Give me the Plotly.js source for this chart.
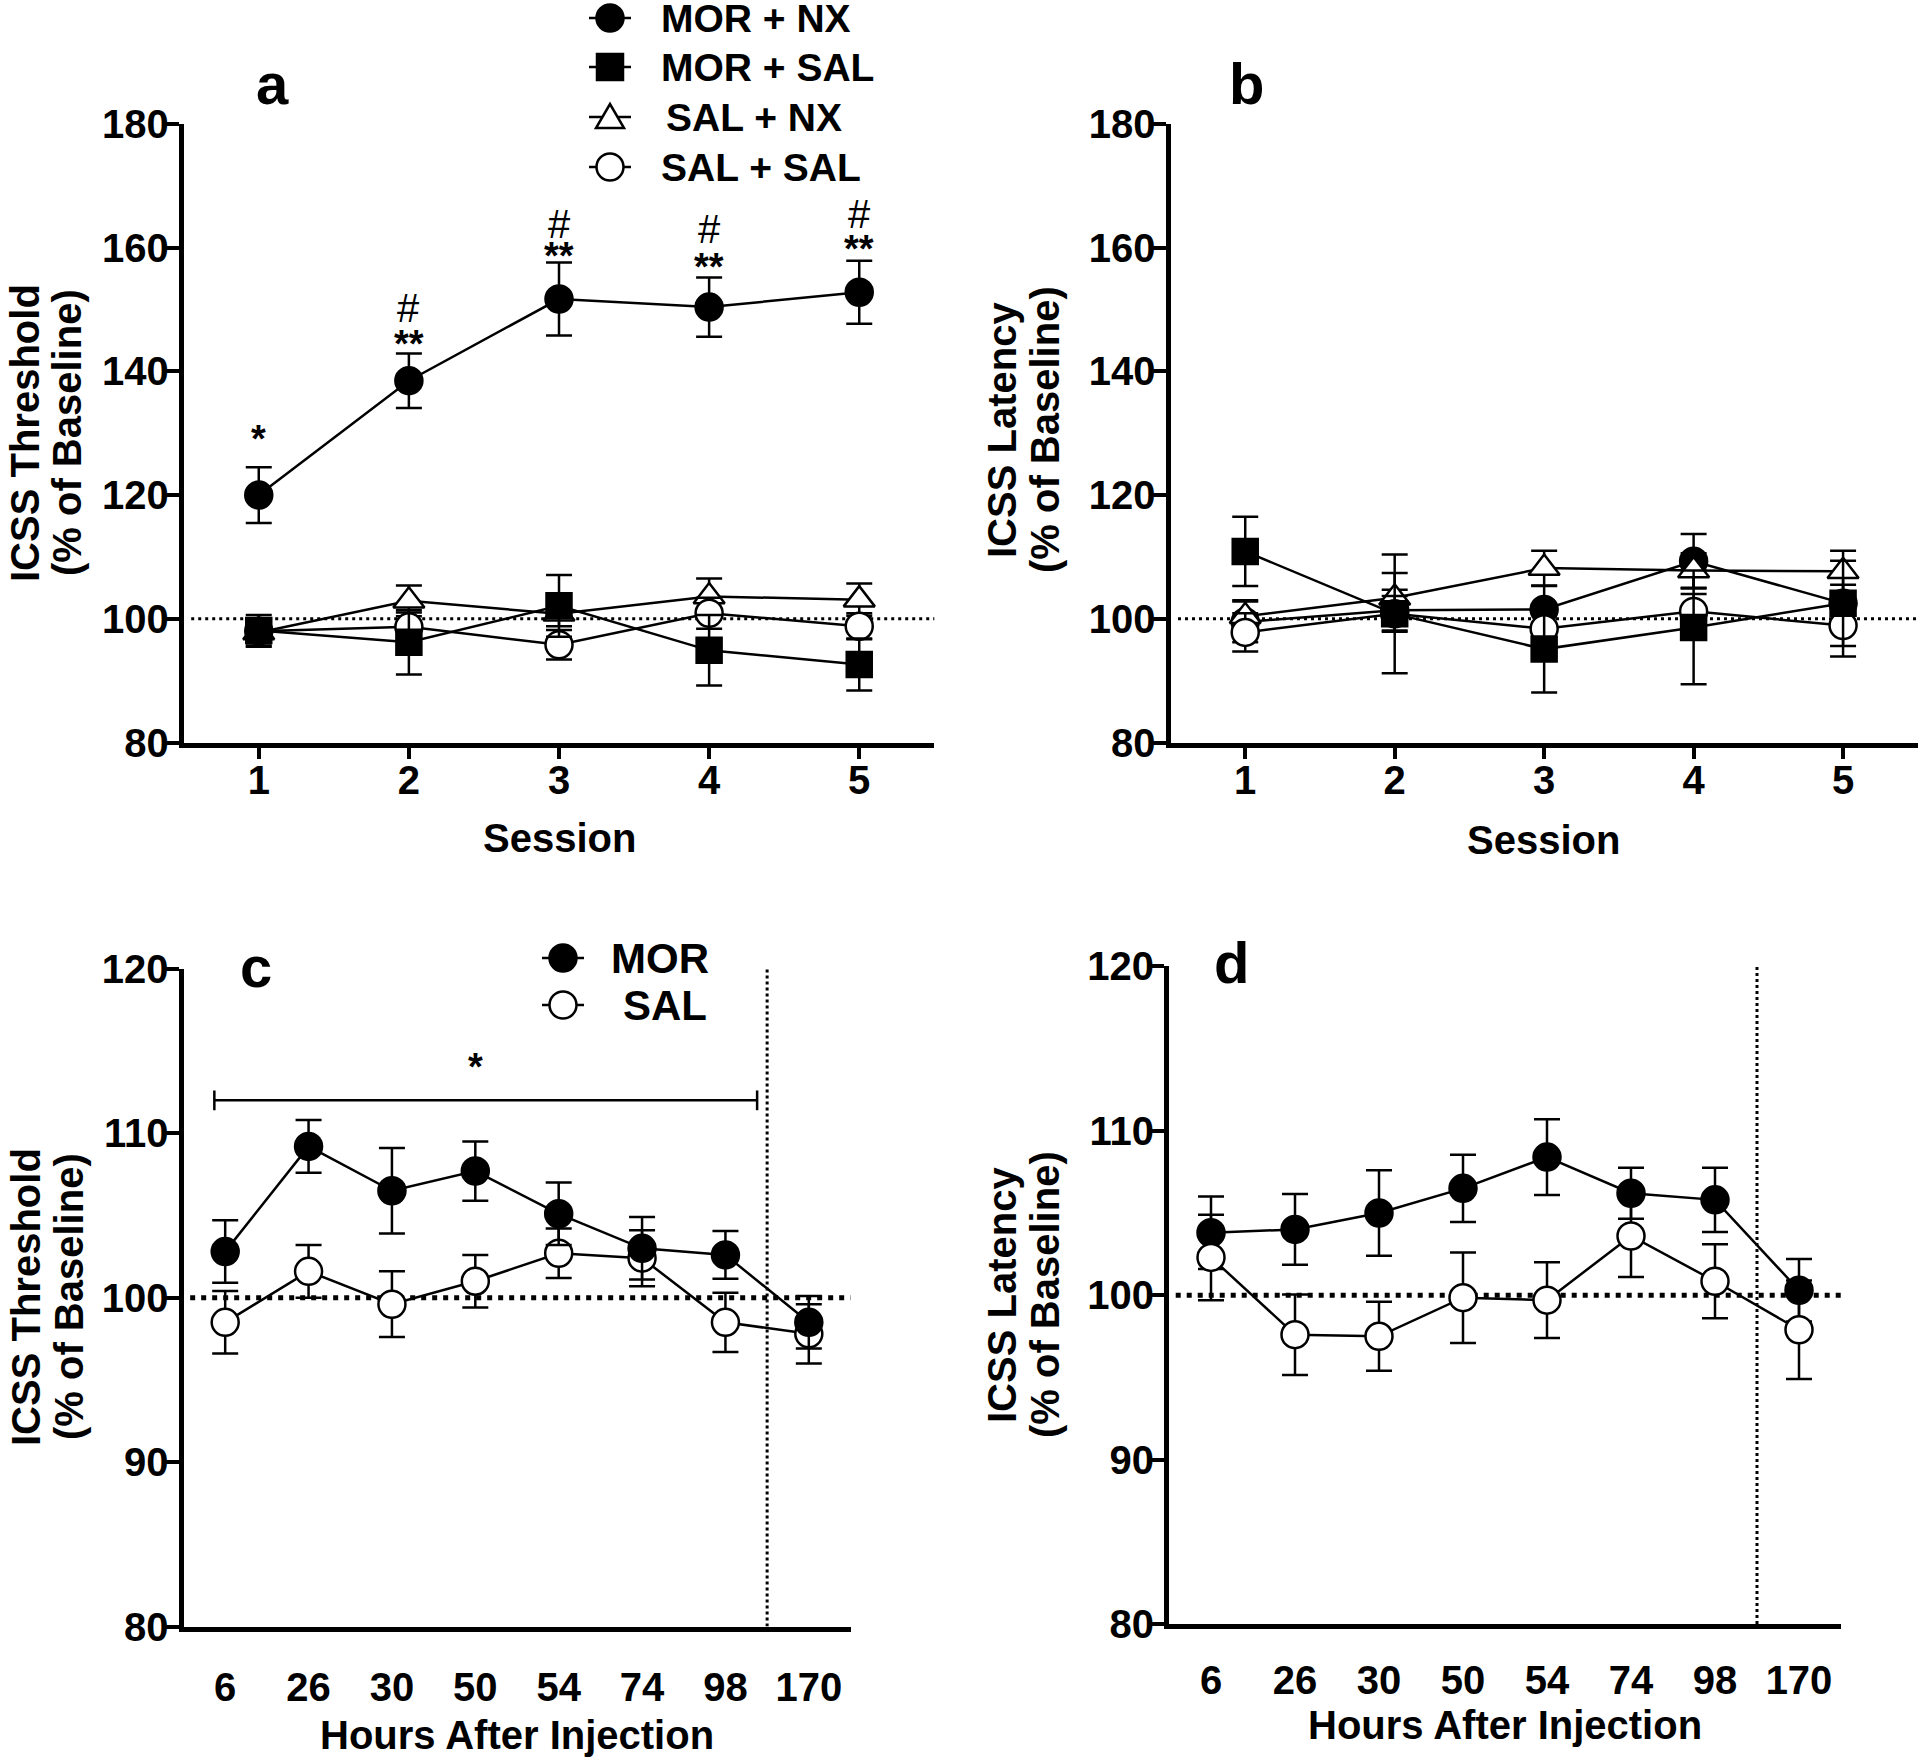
<!DOCTYPE html>
<html>
<head>
<meta charset="utf-8">
<script src="https://cdn.plot.ly/plotly-3.0.1.min.js"></script>
<style>html,body{margin:0;padding:0;background:#fff;}</style>
</head>
<body>
<div id="chart" style="width:1920px;height:1759px;"></div>
<script>
// ---------- Panels a & b : Session 1-5 ----------
const sessions = [1, 2, 3, 4, 5];
const sessionLabels = ['1', '2', '3', '4', '5'];

// a: ICSS Threshold (% of Baseline)
const thrMorNx     = [120.0, 138.5, 151.7, 150.4, 152.8];
const thrMorNxErr  = [4.5, 4.4, 5.9, 4.8, 5.1];
const thrMorSal    = [98.1, 96.2, 102.1, 94.9, 92.6];
const thrMorSalErr = [2.5, 5.2, 5.0, 5.7, 4.2];
const thrSalNx     = [97.8, 102.9, 100.8, 103.6, 103.1];
const thrSalNxErr  = [2.3, 2.5, 2.0, 2.9, 2.6];
const thrSalSal    = [98.0, 98.7, 95.8, 100.9, 98.8];
const thrSalSalErr = [2.0, 2.3, 2.4, 2.5, 2.1];

// b: ICSS Latency (% of Baseline)
const latMorNx     = [99.5, 101.4, 101.5, 109.3, 102.5];
const latMorNxErr  = [3.3, 3.3, 3.8, 4.4, 3.0];
const latMorSal    = [110.9, 100.8, 95.1, 98.6, 102.5];
const latMorSalErr = [5.6, 9.6, 7.0, 9.2, 6.9];
const latSalNx     = [100.4, 103.4, 108.2, 107.8, 107.7];
const latSalNxErr  = [2.6, 4.0, 2.8, 2.8, 3.3];
const latSalSal    = [97.8, 100.8, 98.4, 101.2, 98.9];
const latSalSalErr = [3.1, 2.9, 2.5, 2.8, 5.0];

// significance marks in a
const sigStarText = ['*', '**', '**', '**', '**'];
const sigStarY    = [129.5, 144.9, 159.2, 157.3, 160.3];
const sigHashText = ['', '#', '#', '#', '#'];
const sigHashY    = [null, 149.5, 163.0, 162.2, 164.6];

// ---------- Panels c & d : Hours after injection ----------
const hours = ['6', '26', '30', '50', '54', '74', '98', '170'];
const hourIdx = hours.map((h, i) => i);

const cMor    = [102.8, 109.2, 106.5, 107.7, 105.1, 103.0, 102.6, 98.5];
const cMorErr = [1.9, 1.6, 2.6, 1.8, 1.9, 1.9, 1.45, 1.6];
const cSal    = [98.5, 101.6, 99.6, 101.0, 102.7, 102.4, 98.5, 97.8];
const cSalErr = [1.9, 1.6, 2.0, 1.6, 1.5, 1.7, 1.8, 1.8];

const dMor    = [103.8, 104.0, 105.0, 106.5, 108.4, 106.2, 105.8, 100.3];
const dMorErr = [2.2, 2.15, 2.6, 2.05, 2.3, 1.55, 1.95, 1.9];
const dSal    = [102.3, 97.6, 97.5, 99.85, 99.7, 103.6, 100.85, 97.9];
const dSalErr = [2.6, 2.45, 2.1, 2.75, 2.3, 2.5, 2.25, 3.0];

const legendA = ['MOR + NX', 'MOR + SAL', 'SAL + NX', 'SAL + SAL'];
const legendC = ['MOR', 'SAL'];

// ---------- helpers ----------
const W = 1920, H = 1759;
const FONT = 'Liberation Sans, Arial, Helvetica, sans-serif';
const px = x => x / W;
const py = y => 1 - y / H;
const BLACK = '#000';

const STY = {
  circleFilled: {symbol: 'circle', size: 27, color: BLACK},
  square:       {symbol: 'square', size: 25, color: BLACK},
  triangleOpen: {symbol: 'triangle-up', size: 27, color: '#fff'},
  circleOpen:   {symbol: 'circle', size: 27, color: '#fff'}
};

function series(x, y, err, sty, xa, ya, name) {
  return {
    type: 'scatter', mode: 'lines+markers', name: name,
    x: x, y: y, xaxis: xa, yaxis: ya, showlegend: false,
    line: {color: BLACK, width: 2.5},
    marker: {symbol: sty.symbol, size: sty.size, color: sty.color, line: {color: BLACK, width: 2.5}},
    error_y: {type: 'data', array: err, visible: true, color: BLACK, thickness: 2.5, width: 13},
    cliponaxis: false, hoverinfo: 'x+y'
  };
}

const data = [
  series(sessions, thrMorNx, thrMorNxErr, STY.circleFilled, 'x', 'y', legendA[0]),
  series(sessions, thrSalNx, thrSalNxErr, STY.triangleOpen, 'x', 'y', legendA[2]),
  series(sessions, thrSalSal, thrSalSalErr, STY.circleOpen, 'x', 'y', legendA[3]),
  series(sessions, thrMorSal, thrMorSalErr, STY.square, 'x', 'y', legendA[1]),

  series(sessions, latMorNx, latMorNxErr, STY.circleFilled, 'x2', 'y2', legendA[0]),
  series(sessions, latSalNx, latSalNxErr, STY.triangleOpen, 'x2', 'y2', legendA[2]),
  series(sessions, latSalSal, latSalSalErr, STY.circleOpen, 'x2', 'y2', legendA[3]),
  series(sessions, latMorSal, latMorSalErr, STY.square, 'x2', 'y2', legendA[1]),

  series(hourIdx, cSal, cSalErr, STY.circleOpen, 'x3', 'y3', legendC[1]),
  series(hourIdx, cMor, cMorErr, STY.circleFilled, 'x3', 'y3', legendC[0]),

  series(hourIdx, dMor, dMorErr, STY.circleFilled, 'x4', 'y4', legendC[0]),
  series(hourIdx, dSal, dSalErr, STY.circleOpen, 'x4', 'y4', legendC[1])
];

const tickFont = {family: FONT, size: 40, color: BLACK, weight: 'bold'};
function axis(extra) {
  return Object.assign({
    showline: true, linecolor: BLACK, linewidth: 5, mirror: false,
    showgrid: false, zeroline: false,
    ticks: 'outside', tickcolor: BLACK, tickwidth: 4, ticklen: 13,
    tickfont: tickFont, fixedrange: true
  }, extra);
}

const yDomAB = [py(742.5), py(124)];
const layout = {
  width: W, height: H,
  margin: {l: 0, r: 0, t: 0, b: 0, pad: 0},
  paper_bgcolor: '#fff', plot_bgcolor: 'rgba(0,0,0,0)',
  showlegend: false,
  font: {family: FONT, color: BLACK},
  xaxis:  axis({anchor: 'y',  domain: [px(183.7), px(934.3)], range: [0.5, 5.5], tickmode: 'array', tickvals: sessions, ticktext: sessionLabels, ticklen: 11, ticklabelstandoff: -13}),
  yaxis:  axis({anchor: 'x',  domain: yDomAB, range: [80, 180], tickmode: 'linear', tick0: 80, dtick: 20, ticklabelstandoff: -11}),
  xaxis2: axis({anchor: 'y2', domain: [px(1170.5), px(1917.8)], range: [0.5, 5.5], tickmode: 'array', tickvals: sessions, ticktext: sessionLabels, ticklen: 11, ticklabelstandoff: -13}),
  yaxis2: axis({anchor: 'x2', domain: yDomAB, range: [80, 180], tickmode: 'linear', tick0: 80, dtick: 20, ticklabelstandoff: -11}),
  xaxis3: axis({anchor: 'y3', domain: [px(183.5), px(850.5)], range: [-0.5, 7.5], tickmode: 'array', tickvals: hourIdx, ticktext: hours, ticklen: 21, tickcolor: 'rgba(0,0,0,0)'}),
  yaxis3: axis({anchor: 'x3', domain: [py(1626.5), py(968.8)], range: [80, 120], tickmode: 'linear', tick0: 80, dtick: 10, ticklabelstandoff: -11}),
  xaxis4: axis({anchor: 'y4', domain: [px(1169), px(1841)], range: [-0.5, 7.5], tickmode: 'array', tickvals: hourIdx, ticktext: hours, ticklen: 17, tickcolor: 'rgba(0,0,0,0)'}),
  yaxis4: axis({anchor: 'x4', domain: [py(1624), py(966.4)], range: [80, 120], tickmode: 'linear', tick0: 80, dtick: 10, ticklabelstandoff: -11}),
  shapes: [],
  annotations: []
};

// reference lines
function hDotted(xa, ya, w, dash) {
  layout.shapes.push({type: 'line', layer: 'below', xref: xa + ' domain', yref: ya,
    x0: 0.01, x1: 1, y0: 100, y1: 100, line: {color: BLACK, width: w, dash: dash}});
}
hDotted('x', 'y', 3, '3px,4px');
hDotted('x2', 'y2', 3, '3px,4px');
hDotted('x3', 'y3', 5, '5px,6px');
hDotted('x4', 'y4', 5, '5px,6px');
function vDotted(xa, ya) {
  layout.shapes.push({type: 'line', layer: 'below', xref: xa, yref: ya,
    x0: 6.5, x1: 6.5, y0: 80, y1: 120, line: {color: BLACK, width: 3, dash: '3px,3px'}});
}
vDotted('x3', 'y3');
vDotted('x4', 'y4');

// bracket in c
const brX0 = -0.13, brX1 = 6.38, brY = 112;
layout.shapes.push({type: 'line', xref: 'x3', yref: 'y3', x0: brX0, x1: brX1, y0: brY, y1: brY, line: {color: BLACK, width: 2.5}});
layout.shapes.push({type: 'line', xref: 'x3', yref: 'y3', x0: brX0, x1: brX0, y0: brY - 0.6, y1: brY + 0.6, line: {color: BLACK, width: 2.5}});
layout.shapes.push({type: 'line', xref: 'x3', yref: 'y3', x0: brX1, x1: brX1, y0: brY - 0.6, y1: brY + 0.6, line: {color: BLACK, width: 2.5}});

// text helper
function txt(x, y, text, size, opts) {
  layout.annotations.push(Object.assign({
    xref: 'paper', yref: 'paper', x: px(x), y: py(y), text: text, showarrow: false,
    xanchor: 'center', yanchor: 'middle',
    font: {family: FONT, size: size, color: BLACK, weight: 'bold'}
  }, opts || {}));
}

// panel letters
txt(272, 83, 'a', 58);
txt(1246, 83, 'b', 58);
txt(256, 966, 'c', 58);
txt(1231, 963, 'd', 58);

// axis titles
txt(559.6, 838, 'Session', 40);
txt(1543, 840, 'Session', 40);
txt(517, 1735, 'Hours After Injection', 40);
txt(1505, 1725, 'Hours After Injection', 40);
txt(25, 433, 'ICSS Threshold', 40, {textangle: -90});
txt(67, 433, '(% of Baseline)', 40, {textangle: -90});
txt(1002, 430, 'ICSS Latency', 40, {textangle: -90});
txt(1045, 430, '(% of Baseline)', 40, {textangle: -90});
txt(26, 1297, 'ICSS Threshold', 40, {textangle: -90});
txt(69, 1297, '(% of Baseline)', 40, {textangle: -90});
txt(1002, 1295, 'ICSS Latency', 40, {textangle: -90});
txt(1045, 1295, '(% of Baseline)', 40, {textangle: -90});

// significance marks (panel a)
sessions.forEach((s, i) => {
  layout.annotations.push({xref: 'x', yref: 'y', x: s, y: sigStarY[i], text: sigStarText[i], showarrow: false,
    xanchor: 'center', yanchor: 'middle', yshift: -3,
    font: {family: FONT, size: 38, color: BLACK, weight: 'bold'}});
  if (sigHashText[i]) {
    layout.annotations.push({xref: 'x', yref: 'y', x: s, y: sigHashY[i], text: sigHashText[i], showarrow: false,
      xanchor: 'center', yanchor: 'middle', yshift: 5,
      font: {family: FONT, size: 40, color: BLACK, weight: 'normal'}});
  }
});
// star over bracket in c
layout.annotations.push({xref: 'x3', yref: 'y3', x: 3, y: 114.4, text: '*', showarrow: false,
  xanchor: 'center', yanchor: 'middle', yshift: -6,
  font: {family: FONT, size: 38, color: BLACK, weight: 'bold'}});

// legends (symbol drawn in pixels around an anchor)
function legendSymbol(x, y, kind) {
  const base = {xref: 'paper', yref: 'paper', xsizemode: 'pixel', ysizemode: 'pixel',
    xanchor: px(x), yanchor: py(y)};
  layout.shapes.push(Object.assign({type: 'line', x0: -21, x1: 21, y0: 0, y1: 0, line: {color: BLACK, width: 2.5}}, base));
  const fill = (kind === 'circleFilled' || kind === 'square') ? BLACK : '#fff';
  if (kind === 'circleFilled' || kind === 'circleOpen') {
    layout.shapes.push(Object.assign({type: 'circle', x0: -13.5, x1: 13.5, y0: -13.5, y1: 13.5, fillcolor: fill, line: {color: BLACK, width: 2.5}}, base));
  } else if (kind === 'square') {
    layout.shapes.push(Object.assign({type: 'rect', x0: -13, x1: 13, y0: -13, y1: 13, fillcolor: fill, line: {color: BLACK, width: 2.5}}, base));
  } else {
    layout.shapes.push(Object.assign({type: 'path', path: 'M-14,-11L14,-11L0,13Z', fillcolor: fill, line: {color: BLACK, width: 2.5}}, base));
  }
}
const legAKinds = ['circleFilled', 'square', 'triangleOpen', 'circleOpen'];
const legAY = [18, 67, 117, 167];
const legATextX = [660, 660, 665, 660];
legendA.forEach((name, i) => {
  legendSymbol(610, legAY[i], legAKinds[i]);
  txt(legATextX[i], legAY[i], name, 39, {xanchor: 'left', borderpad: 0});
});
const legCKinds = ['circleFilled', 'circleOpen'];
const legCY = [958, 1005];
const legCTextX = [609, 621];
legendC.forEach((name, i) => {
  legendSymbol(563, legCY[i], legCKinds[i]);
  txt(legCTextX[i], legCY[i], name, 42, {xanchor: 'left'});
});

Plotly.newPlot('chart', data, layout, {staticPlot: true, displayModeBar: false});
</script>
</body>
</html>
